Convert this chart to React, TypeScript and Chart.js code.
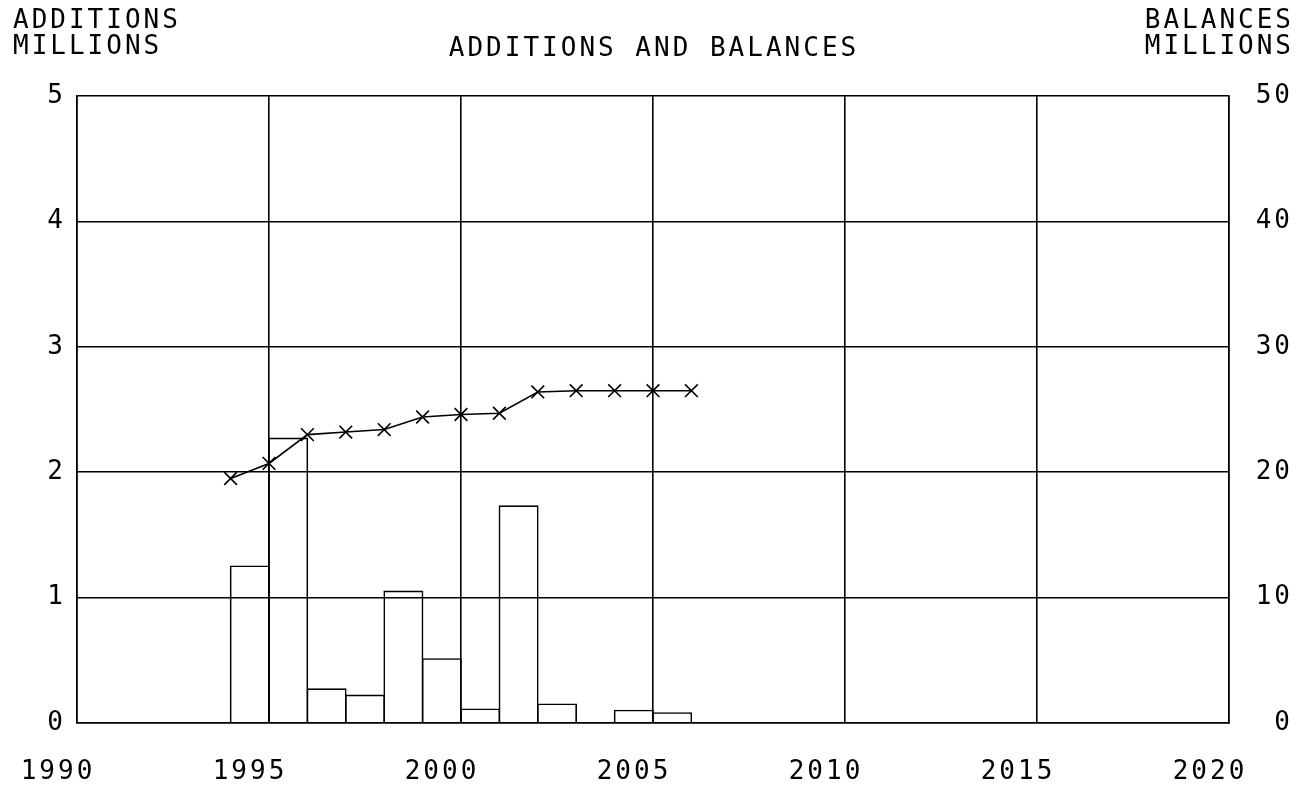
import React, { useEffect, useRef } from 'react';
import { Chart, registerables } from 'chart.js';

Chart.register(...registerables);

// ---- data ----
const barYears = [1994.5, 1995.5, 1996.5, 1997.5, 1998.5, 1999.5, 2000.5, 2001.5, 2002.5, 2003.5, 2004.5, 2005.5];
const additions = [1.25, 2.27, 0.27, 0.22, 1.05, 0.51, 0.11, 1.73, 0.15, 0, 0.10, 0.08];
const balanceYears = [1994, 1995, 1996, 1997, 1998, 1999, 2000, 2001, 2002, 2003, 2004, 2005, 2006];
const balances = [19.5, 20.7, 23.0, 23.2, 23.4, 24.4, 24.6, 24.7, 26.4, 26.5, 26.5, 26.5, 26.5];

const xRange = [1990, 2020];
const xStep = 5;
const leftRange = [0, 5];
const leftStep = 1;
const rightRange = [0, 50];
const rightStep = 10;

const titleText = 'ADDITIONS AND BALANCES';
const leftTitle = ['ADDITIONS', 'MILLIONS'];
const rightTitle = ['BALANCES', 'MILLIONS'];

const FONT = "'DejaVu Sans Mono', monospace";
const FONT_SIZE = 26;
const SPACING = '3px';

const textPlugin = {
  id: 'plotterText',
  beforeDraw(chart: any) {
    chart.ctx.letterSpacing = SPACING;
  },
  afterDraw(chart: any) {
    const ctx = chart.ctx;
    ctx.save();
    ctx.letterSpacing = SPACING;
    ctx.font = `${FONT_SIZE}px ${FONT}`;
    ctx.fillStyle = '#000';
    ctx.textBaseline = 'middle';
    ctx.textAlign = 'left';
    ctx.fillText(leftTitle[0], 13, 21);
    ctx.fillText(leftTitle[1], 13, 47);
    ctx.textAlign = 'right';
    ctx.fillText(rightTitle[0], 1294, 21);
    ctx.fillText(rightTitle[1], 1294, 47);
    ctx.textAlign = 'center';
    ctx.fillText(titleText, 654, 49);
    ctx.restore();
  },
};

export default function App() {
  const ref = useRef<HTMLCanvasElement | null>(null);

  useEffect(() => {
    if (!ref.current) return;
    Chart.defaults.font.family = FONT;
    Chart.defaults.font.size = FONT_SIZE;
    Chart.defaults.color = '#000';

    const lineW = 1.6;
    const chart = new Chart(ref.current, {
      type: 'bar',
      data: {
        datasets: [
          {
            type: 'line',
            label: 'Balances',
            data: balanceYears.map((x, i) => ({ x, y: balances[i] })),
            yAxisID: 'y2',
            xAxisID: 'x',
            borderColor: '#000',
            borderWidth: lineW,
            pointStyle: 'crossRot',
            pointRadius: 9,
            pointBorderWidth: 1.6,
            pointBorderColor: '#000',
            pointBackgroundColor: '#000',
            tension: 0,
            fill: false,
          } as any,
          {
            type: 'bar',
            label: 'Additions',
            data: barYears.map((x, i) => ({ x, y: additions[i] })),
            yAxisID: 'y',
            xAxisID: 'x',
            backgroundColor: 'rgba(0,0,0,0)',
            borderColor: '#000',
            borderWidth: 0.02,
            inflateAmount: 0.8,
            categoryPercentage: 1,
            barPercentage: 1,
          } as any,
        ],
      },
      options: {
        animation: false,
        responsive: true,
        maintainAspectRatio: false,
        layout: { padding: { top: 96, right: 11, left: 0, bottom: 0 } },
        plugins: {
          legend: { display: false },
          tooltip: { enabled: false },
          title: { display: false },
        },
        scales: {
          x: {
            type: 'linear',
            position: 'bottom',
            min: xRange[0],
            max: xRange[1],
            offset: false,
            grid: { color: '#000', lineWidth: lineW, drawTicks: false, offset: false },
            border: { display: true, color: '#000', width: lineW },
            ticks: {
              stepSize: xStep,
              padding: 34,
              labelOffset: -19,
              maxRotation: 0,
              autoSkip: false,
              callback: (v: any) => String(v),
            },
            afterFit: (s: any) => { s.height = 67; },
          },
          y: {
            type: 'linear',
            position: 'left',
            min: leftRange[0],
            max: leftRange[1],
            grid: { color: '#000', lineWidth: lineW, drawTicks: false },
            border: { display: true, color: '#000', width: lineW },
            ticks: { stepSize: leftStep, padding: 11 },
            afterFit: (s: any) => { s.width = 77; },
          },
          y2: {
            type: 'linear',
            position: 'right',
            min: rightRange[0],
            max: rightRange[1],
            grid: { display: false, drawTicks: false },
            border: { display: true, color: '#000', width: lineW },
            ticks: { stepSize: rightStep, padding: 10, crossAlign: 'far' },
            afterFit: (s: any) => { s.width = 64; },
          },
        },
      } as any,
      plugins: [textPlugin],
    });
    return () => chart.destroy();
  }, []);

  return (
    <div style={{ position: 'fixed', left: 0, top: 0, width: 1304, height: 790, background: '#fff' }}>
      <canvas ref={ref} />
    </div>
  );
}
